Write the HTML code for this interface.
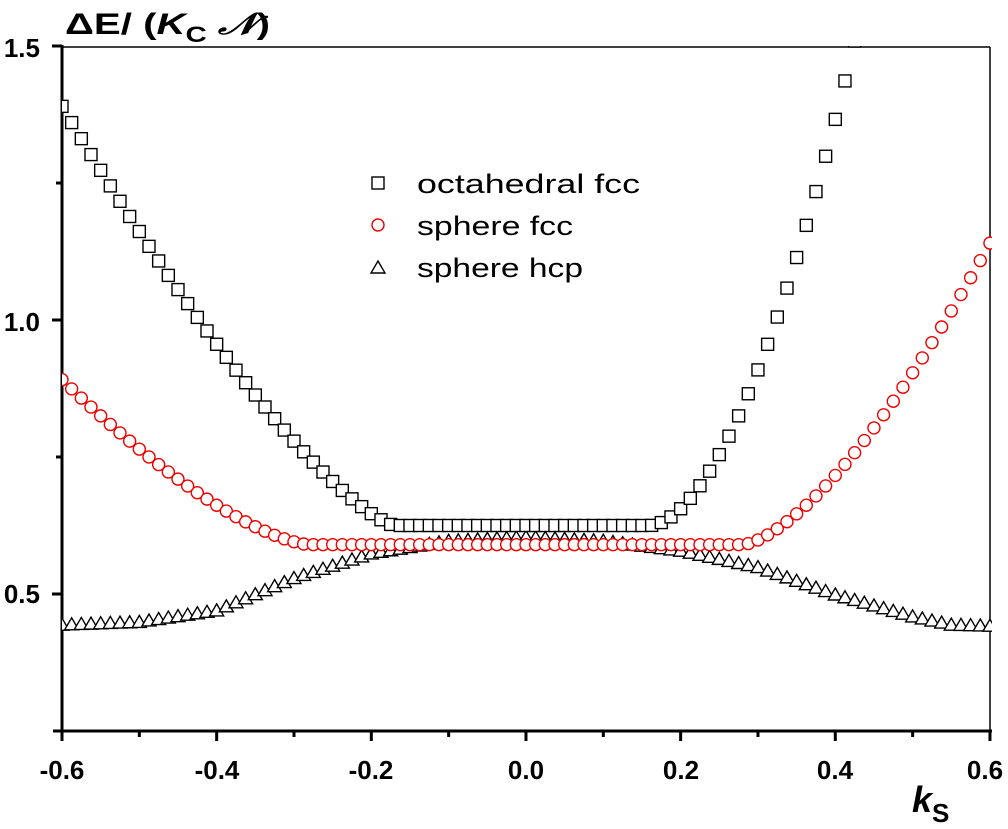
<!DOCTYPE html>
<html><head><meta charset="utf-8"><style>
html,body{margin:0;padding:0;background:#fff;}
svg{display:block;font-family:"Liberation Sans",Arial,sans-serif;}
</style></head><body>
<svg id="s" width="1008" height="829" viewBox="0 0 1008 829">
<defs><clipPath id="c"><rect x="62" y="46" width="930" height="686"/></clipPath></defs>
<line x1="62" y1="47" x2="990" y2="47" stroke="#000" stroke-width="1.5"/>
<line x1="990" y1="47" x2="990" y2="731" stroke="#000" stroke-width="1.5"/>
<line x1="62" y1="45" x2="62" y2="733" stroke="#000" stroke-width="3"/>
<line x1="53" y1="731" x2="992" y2="731" stroke="#000" stroke-width="3"/>
<g id="ticks" stroke="#000" stroke-width="3"></g>
<g id="pts" clip-path="url(#c)" fill="none" stroke-width="1.4"></g>
<g font-size="26" font-weight="bold" fill="#000">
<text x="40" y="57" text-anchor="end">1.5</text>
<text x="40" y="331" text-anchor="end">1.0</text>
<text x="40" y="603" text-anchor="end">0.5</text>
<text x="62" y="779" text-anchor="middle">-0.6</text>
<text x="217" y="779" text-anchor="middle">-0.4</text>
<text x="371" y="779" text-anchor="middle">-0.2</text>
<text x="526" y="779" text-anchor="middle">0.0</text>
<text x="681" y="779" text-anchor="middle">0.2</text>
<text x="835" y="779" text-anchor="middle">0.4</text>
<text x="985" y="779" text-anchor="middle">0.6</text>
</g>
<text x="65" y="34" font-size="30" font-weight="bold" textLength="205" lengthAdjust="spacingAndGlyphs">ΔE/ (<tspan font-style="italic">K</tspan><tspan font-size="22" dy="8">C</tspan><tspan dy="-8"> </tspan><tspan font-style="italic">𝒩</tspan>)</text>
<text x="912" y="812" font-size="36" font-weight="bold" font-style="italic">k<tspan font-size="26" font-style="normal" dy="10">S</tspan></text>
<g font-size="27" fill="#000">
<rect x="372" y="177" width="12" height="12" fill="none" stroke="#000" stroke-width="1.4"/>
<text x="417" y="193" textLength="223" lengthAdjust="spacingAndGlyphs">octahedral fcc</text>
<circle cx="378" cy="225" r="6" fill="none" stroke="#e00" stroke-width="1.4"/>
<text x="417" y="235" textLength="156" lengthAdjust="spacingAndGlyphs">sphere fcc</text>
<polygon points="378,261 385,273 371,273" fill="none" stroke="#000" stroke-width="1.4"/>
<text x="417" y="277" textLength="166" lengthAdjust="spacingAndGlyphs">sphere hcp</text>
</g>
</svg>
<script>
var NS="http://www.w3.org/2000/svg";
function X(x){return 62+(x+0.6)*773.3;}
function Y(y){return 594-(y-0.5)*548;}
function el(p,t,a){var e=document.createElementNS(NS,t);for(var k in a)e.setAttribute(k,a[k]);p.appendChild(e);return e;}
var T=document.getElementById("ticks");
for(var i=0;i<=12;i++){var x=X(-0.6+i*0.1);var L=(i%2==0)?10:6;el(T,"line",{x1:x,y1:731,x2:x,y2:731+L});}
[1.5,1.0,0.5].forEach(function(v){el(T,"line",{x1:52,y1:Y(v),x2:62,y2:Y(v)});});
[1.25,0.75].forEach(function(v){el(T,"line",{x1:56,y1:Y(v),x2:62,y2:Y(v)});});
function oct(x){var y=0.625;if(x<-0.17)y+=2.37*Math.pow(-0.17-x,1.34);if(x>0.16)y+=9.4*Math.pow(x-0.16,1.78);return y;}
function fcc(x){var y=0.59;if(x<-0.28)y+=1.59*Math.pow(-0.28-x,1.46);if(x>0.28)y+=3.04*Math.pow(x-0.28,1.5);return y;}
var H=[[-0.6,0.445],[-0.5,0.45],[-0.4,0.471],[-0.3,0.53],[-0.2,0.575],[-0.1,0.598],[0,0.605],[0.1,0.598],[0.2,0.58],[0.3,0.55],[0.4,0.5],[0.5,0.46],[0.55,0.445],[0.6,0.443]];
function hcp(x){for(var i=0;i<H.length-1;i++){if(x<=H[i+1][0]){var t=(x-H[i][0])/(H[i+1][0]-H[i][0]);return H[i][1]+t*(H[i+1][1]-H[i][1]);}}return 0.443;}
var P=document.getElementById("pts");var N=96,st=1.2/N;
for(var i=0;i<=N;i++){var x=-0.6+i*st;var px=X(x);
 var yh=Y(hcp(x));el(P,"polygon",{points:px+","+(yh-6)+" "+(px+7)+","+(yh+6)+" "+(px-7)+","+(yh+6),stroke:"#000",fill:"#fff"});}
for(var i=0;i<=N;i++){var x=-0.6+i*st;var px=X(x);
 el(P,"circle",{cx:px,cy:Y(fcc(x)),r:6,stroke:"#e00",fill:"#fff"});}
for(var i=0;i<=N;i++){var x=-0.6+i*st;var px=X(x);var y=oct(x);if(y>1.52)continue;
 el(P,"rect",{x:px-6,y:Y(y)-6,width:12,height:12,stroke:"#000",fill:"#fff"});}
</script>
</body></html>
